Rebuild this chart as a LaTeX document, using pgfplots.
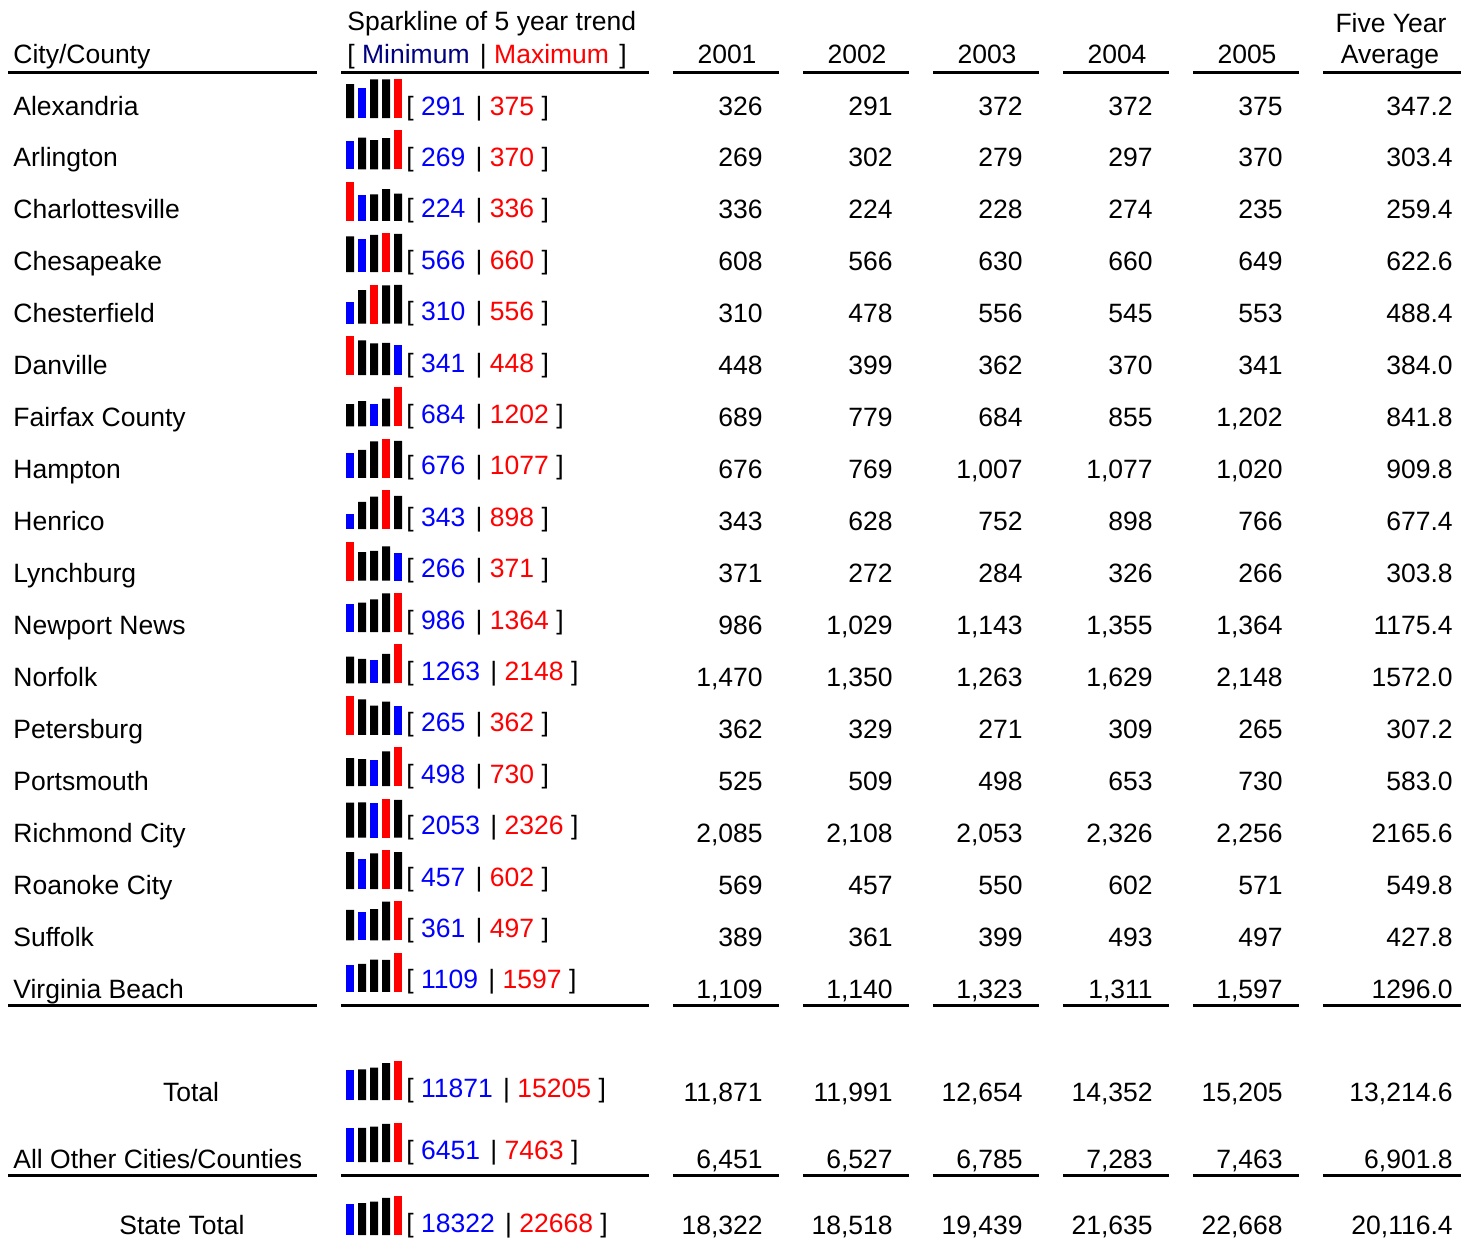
\documentclass[border=0pt]{standalone}
\usepackage{fontspec}
\setmainfont{Liberation Sans}
\usepackage{pgfplots}
\pgfplotsset{compat=1.18}
\definecolor{navy}{RGB}{0,0,128}
\pgfplotsset{
  spark/.style={scale only axis, width=28pt, height=19.5pt, anchor=south west,
    xmin=0.6667, xmax=5.3333, ymin=0, hide axis, clip=false},
  sbar/.style={ybar, bar width=4pt, bar shift=0pt, draw=none, fill=#1}
}
% #1 bar bottom y, #2 max value, #3 black bars, #4 minimum bar, #5 maximum bar, #6 min label, #7 max label
\newcommand\Spark[7]{%
  \coordinate (sp) at (346,#1);
  \begin{axis}[spark, at={(sp)}, ymax=#2]
    \addplot[sbar=black] coordinates {#3};
    \addplot[sbar=blue] coordinates {#4};
    \addplot[sbar=red] coordinates {#5};
  \end{axis}
  \node[anchor=base west] at (406,#1-3) {[ \textcolor{blue}{#6}\hspace{1.5pt} | \textcolor{red}{#7} ]};
}
% #1 baseline y, #2-#6 yearly values, #7 average
\newcommand\Row[7]{%
  \node[anchor=base east] at (763,#1) {#2};
  \node[anchor=base east] at (893,#1) {#3};
  \node[anchor=base east] at (1023,#1) {#4};
  \node[anchor=base east] at (1153,#1) {#5};
  \node[anchor=base east] at (1283,#1) {#6};
  \node[anchor=base east] at (1453,#1) {#7};
}
\newcommand\City[8]{% #1 row index, #2 name, #3-#8 values
  \node[anchor=base west] at (13,{115+#1*51.94}) {#2};
  \Row{{115+#1*51.94}}{#3}{#4}{#5}{#6}{#7}{#8}%
}
\begin{document}
\begin{tikzpicture}[x=0.5pt, y=-0.5pt, font=\fontsize{13.25}{16}\selectfont,
  every node/.style={inner sep=0pt}]
\path (0,0) rectangle (1475,1239);

% header
\node[anchor=base west] at (13,63) {City/County};
\node[anchor=base west] at (347,30) {Sparkline of 5 year trend};
\node[anchor=base west] at (347,63) {[ \textcolor{navy}{Minimum}\hspace{1.5pt} | \textcolor{red}{Maximum}\hspace{1.5pt} ]};
\node[anchor=base] at (727,63) {2001};
\node[anchor=base] at (857,63) {2002};
\node[anchor=base] at (987,63) {2003};
\node[anchor=base] at (1117,63) {2004};
\node[anchor=base] at (1247,63) {2005};
\node[anchor=base] at (1391,32) {Five Year};
\node[anchor=base] at (1390,63) {Average};

% rules
\foreach \yy in {72,1005,1175}{
  \foreach \a/\b in {8/317,341/649,673/779,803/909,933/1039,1063/1169,1193/1299,1323/1461}{
    \draw[line width=1.5pt] (\a,\yy) -- (\b,\yy);
  }
}

% city rows
\City{0}{Alexandria}{326}{291}{372}{372}{375}{347.2}
\City{1}{Arlington}{269}{302}{279}{297}{370}{303.4}
\City{2}{Charlottesville}{336}{224}{228}{274}{235}{259.4}
\City{3}{Chesapeake}{608}{566}{630}{660}{649}{622.6}
\City{4}{Chesterfield}{310}{478}{556}{545}{553}{488.4}
\City{5}{Danville}{448}{399}{362}{370}{341}{384.0}
\City{6}{Fairfax County}{689}{779}{684}{855}{1,202}{841.8}
\City{7}{Hampton}{676}{769}{1,007}{1,077}{1,020}{909.8}
\City{8}{Henrico}{343}{628}{752}{898}{766}{677.4}
\City{9}{Lynchburg}{371}{272}{284}{326}{266}{303.8}
\City{10}{Newport News}{986}{1,029}{1,143}{1,355}{1,364}{1175.4}
\City{11}{Norfolk}{1,470}{1,350}{1,263}{1,629}{2,148}{1572.0}
\City{12}{Petersburg}{362}{329}{271}{309}{265}{307.2}
\City{13}{Portsmouth}{525}{509}{498}{653}{730}{583.0}
\City{14}{Richmond City}{2,085}{2,108}{2,053}{2,326}{2,256}{2165.6}
\City{15}{Roanoke City}{569}{457}{550}{602}{571}{549.8}
\City{16}{Suffolk}{389}{361}{399}{493}{497}{427.8}
\City{17}{Virginia Beach}{1,109}{1,140}{1,323}{1,311}{1,597}{1296.0}

% totals
\node[anchor=base] at (191,1101) {Total};
\Row{1101}{11,871}{11,991}{12,654}{14,352}{15,205}{13,214.6}
\node[anchor=base west] at (13,1168) {All Other Cities/Counties};
\Row{1168}{6,451}{6,527}{6,785}{7,283}{7,463}{6,901.8}
\node[anchor=base] at (182,1234) {State Total};
\Row{1234}{18,322}{18,518}{19,439}{21,635}{22,668}{20,116.4}

% sparklines
\Spark{118}{375}{(1,326)(3,372)(4,372)}{(2,291)}{(5,375)}{291}{375}
\Spark{169.4}{370}{(2,302)(3,279)(4,297)}{(1,269)}{(5,370)}{269}{370}
\Spark{220.8}{336}{(3,228)(4,274)(5,235)}{(2,224)}{(1,336)}{224}{336}
\Spark{272.2}{660}{(1,608)(3,630)(5,649)}{(2,566)}{(4,660)}{566}{660}
\Spark{323.6}{556}{(2,478)(4,545)(5,553)}{(1,310)}{(3,556)}{310}{556}
\Spark{375}{448}{(2,399)(3,362)(4,370)}{(5,341)}{(1,448)}{341}{448}
\Spark{426.4}{1202}{(1,689)(2,779)(4,855)}{(3,684)}{(5,1202)}{684}{1202}
\Spark{477.8}{1077}{(2,769)(3,1007)(5,1020)}{(1,676)}{(4,1077)}{676}{1077}
\Spark{529.2}{898}{(2,628)(3,752)(5,766)}{(1,343)}{(4,898)}{343}{898}
\Spark{580.6}{371}{(2,272)(3,284)(4,326)}{(5,266)}{(1,371)}{266}{371}
\Spark{632}{1364}{(2,1029)(3,1143)(4,1355)}{(1,986)}{(5,1364)}{986}{1364}
\Spark{683.4}{2148}{(1,1470)(2,1350)(4,1629)}{(3,1263)}{(5,2148)}{1263}{2148}
\Spark{734.8}{362}{(2,329)(3,271)(4,309)}{(5,265)}{(1,362)}{265}{362}
\Spark{786.2}{730}{(1,525)(2,509)(4,653)}{(3,498)}{(5,730)}{498}{730}
\Spark{837.6}{2326}{(1,2085)(2,2108)(5,2256)}{(3,2053)}{(4,2326)}{2053}{2326}
\Spark{889}{602}{(1,569)(3,550)(5,571)}{(2,457)}{(4,602)}{457}{602}
\Spark{940.4}{497}{(1,389)(3,399)(4,493)}{(2,361)}{(5,497)}{361}{497}
\Spark{991.8}{1597}{(2,1140)(3,1323)(4,1311)}{(1,1109)}{(5,1597)}{1109}{1597}
\Spark{1100}{15205}{(2,11991)(3,12654)(4,14352)}{(1,11871)}{(5,15205)}{11871}{15205}
\Spark{1162}{7463}{(2,6527)(3,6785)(4,7283)}{(1,6451)}{(5,7463)}{6451}{7463}
\Spark{1235}{22668}{(2,18518)(3,19439)(4,21635)}{(1,18322)}{(5,22668)}{18322}{22668}
\end{tikzpicture}
\end{document}
